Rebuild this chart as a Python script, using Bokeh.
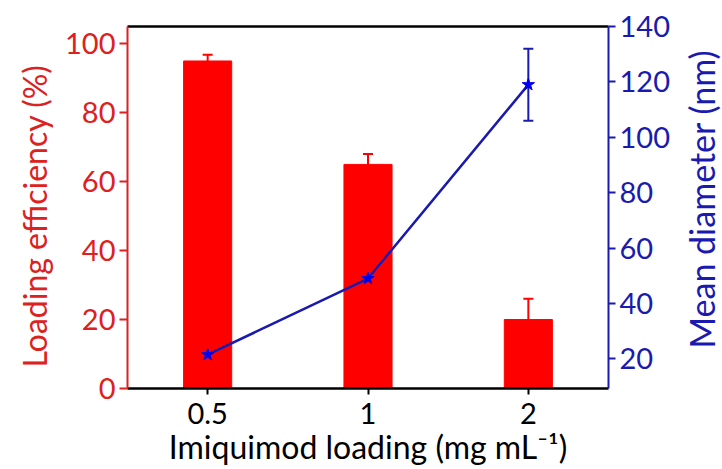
from bokeh.plotting import figure
from bokeh.layouts import row
from bokeh.models import (FactorRange, Range1d, LinearAxis, FixedTicker, Whisker,
                          ColumnDataSource, TeeHead, Title)
from bokeh.embed import file_html
from bokeh.resources import INLINE

categories = ["0.5", "1", "2"]
efficiency = [95.0, 65.0, 20.0]
efficiency_err = [1.8, 3.0, 6.0]
diameter = [21.5, 49.0, 119.0]
diameter_err = [2.0, 5.5, 13.0]
left_ticks = [0, 20, 40, 60, 80, 100]
right_ticks = [20, 40, 60, 80, 100, 120, 140]
x_title = "Imiquimod loading (mg mL\u207b\u00b9)"
left_title = "Loading efficiency (%)"
right_title = "Mean diameter (nm)"

RED = "#ff0000"
RED_TXT = "#dd2020"
BLUE = "#1a1ab0"
BLUE_MK = "#0000ee"
FONT = "Lato"
TICK_FS = "29px"
TOP, BOTTOM = 26, 81

p = figure(width=672, height=469, x_range=FactorRange(factors=categories),
           y_range=Range1d(0, 105), output_backend="svg", toolbar_location=None,
           min_border_left=127, min_border_right=59, min_border_top=TOP,
           min_border_bottom=BOTTOM)
p.extra_y_ranges = {"d": Range1d(9.3, 140)}
p.grid.visible = False
p.outline_line_color = None
p.background_fill_color = "white"

src = ColumnDataSource(dict(
    cat=categories, eff=efficiency,
    eff_lo=[v - e for v, e in zip(efficiency, efficiency_err)],
    eff_hi=[v + e for v, e in zip(efficiency, efficiency_err)],
    dia=diameter,
    dia_lo=[v - e for v, e in zip(diameter, diameter_err)],
    dia_hi=[v + e for v, e in zip(diameter, diameter_err)],
))

p.vbar(x="cat", top="eff", width=0.3, source=src, color=RED)
p.add_layout(Whisker(base="cat", lower="eff_lo", upper="eff_hi", source=src,
                     line_color=RED, line_width=2,
                     upper_head=TeeHead(size=10, line_color=RED, line_width=2),
                     lower_head=TeeHead(size=10, line_color=RED, line_width=2)))

p.line(x="cat", y="dia", source=src, y_range_name="d", line_color=BLUE, line_width=2.5)
p.add_layout(Whisker(base="cat", lower="dia_lo", upper="dia_hi", source=src,
                     y_range_name="d", line_color=BLUE, line_width=2,
                     upper_head=TeeHead(size=10, line_color=BLUE, line_width=2),
                     lower_head=TeeHead(size=10, line_color=BLUE, line_width=2)))
p.scatter(x="cat", y="dia", source=src, y_range_name="d", marker="star",
          size=13, color=BLUE_MK)

# left axis
la = p.yaxis[0]
la.ticker = FixedTicker(ticks=left_ticks)
la.axis_line_color = RED_TXT
la.axis_line_width = 2
la.major_tick_line_color = RED_TXT
la.major_tick_line_width = 2
la.major_label_text_color = RED_TXT
la.major_tick_in = 0
la.major_tick_out = 8
la.minor_tick_line_color = None
la.major_label_text_font = FONT
la.major_label_text_font_size = TICK_FS
la.major_label_standoff = 4

p.add_layout(Title(text=left_title, align="left", offset=21, text_font=FONT,
                   text_font_size="32px", text_font_style="normal",
                   text_color=RED_TXT, standoff=18), "left")

# right axis
ra = LinearAxis(y_range_name="d", ticker=FixedTicker(ticks=right_ticks))
ra.axis_line_color = BLUE
ra.axis_line_width = 2
ra.major_tick_line_color = BLUE
ra.major_tick_line_width = 2
ra.major_tick_in = 0
ra.major_tick_out = 7
ra.minor_tick_line_color = None
ra.major_label_text_color = BLUE
ra.major_label_text_font = FONT
ra.major_label_text_font_size = TICK_FS
ra.major_label_standoff = 4
p.add_layout(ra, "right")

# bottom axis
xa = p.xaxis[0]
xa.axis_label = x_title
xa.axis_line_color = "black"
xa.axis_line_width = 2.5
xa.major_tick_line_color = "black"
xa.major_tick_line_width = 2
xa.major_tick_in = 0
xa.major_tick_out = 6
xa.major_label_text_color = "black"
xa.major_label_text_font = FONT
xa.major_label_text_font_size = TICK_FS
xa.major_label_standoff = 8
xa.axis_label_text_color = "black"
xa.axis_label_text_font = FONT
xa.axis_label_text_font_size = "32px"
xa.axis_label_text_font_style = "normal"
xa.axis_label_standoff = 0

# top border
ta = LinearAxis(ticker=FixedTicker(ticks=[]))
ta.axis_line_color = "black"
ta.axis_line_width = 2.5
ta.major_tick_line_color = None
ta.minor_tick_line_color = None
ta.major_label_text_font_size = "0px"
p.add_layout(ta, "above")

# right-hand title strip (text reads bottom to top, like the reference)
rs = figure(width=50, height=469, output_backend="svg", toolbar_location=None,
            min_border_left=49, min_border_right=0, min_border_top=TOP,
            min_border_bottom=BOTTOM, x_range=Range1d(0, 1), y_range=Range1d(0, 1))
rs.outline_line_color = None
rs.grid.visible = False
rs.xaxis.visible = False
rs.yaxis.visible = False
rs.add_layout(Title(text=right_title, align="left", offset=40, text_font=FONT,
                    text_font_size="34px", text_font_style="normal",
                    text_color=BLUE, standoff=0), "left")

layout = row(p, rs, spacing=0)
open("out.html", "w").write(file_html(layout, INLINE))
